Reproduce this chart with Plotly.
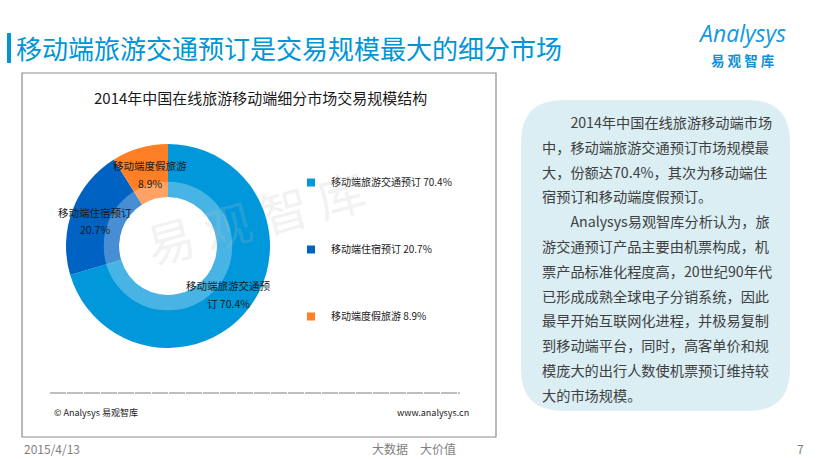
import plotly.graph_objects as go

W, H = 820, 459

# ---- data ----
segments = ["移动端旅游交通预订", "移动端住宿预订", "移动端度假旅游"]
shares = [70.4, 20.7, 8.9]
colors = ["#0098DB", "#0063C4", "#FF7F27"]

page_title = "移动端旅游交通预订是交易规模最大的细分市场"
chart_title = "2014年中国在线旅游移动端细分市场交易规模结构"
note_lines = [
    "\u3000\u30002014年中国在线旅游移动端市场",
    "中，移动端旅游交通预订市场规模最",
    "大，份额达70.4%，其次为移动端住",
    "宿预订和移动端度假预订。",
    "\u3000\u3000Analysys易观智库分析认为，旅",
    "游交通预订产品主要由机票构成，机",
    "票产品标准化程度高，20世纪90年代",
    "已形成成熟全球电子分销系统，因此",
    "最早开始互联网化进程，并极易复制",
    "到移动端平台，同时，高客单价和规",
    "模庞大的出行人数使机票预订维持较",
    "大的市场规模。",
]
footer_date = "2015/4/13"
footer_mid = "大数据\u3000大价值"
page_no = "7"

FONT = "Noto Sans CJK SC"


def px(x):
    return x / W


def py(y):
    return 1 - y / H


# donut geometry (pixels)
cx, cy, R = 168, 246, 102
hole = 0.48

fig = go.Figure()
fig.add_trace(go.Pie(
    labels=segments, values=shares, sort=False, direction="clockwise", rotation=0,
    hole=hole, marker=dict(colors=colors, line=dict(width=0)),
    textinfo="none", hoverinfo="label+percent", showlegend=False,
    domain=dict(x=[px(cx - R), px(cx + R)], y=[py(cy + R), py(cy - R)]),
))

# legend via dummy traces
for name, val, col in zip(segments, shares, colors):
    fig.add_trace(go.Scatter(
        x=[None], y=[None], mode="markers", name=f"{name} {val}%",
        legendgroup=name,
        marker=dict(symbol="square", size=8, color=col),
    ))

annotations = []
shapes = []


def ann(x, y, text, size, color, xanchor="center", family=FONT, angle=0, pad=1):
    annotations.append(dict(
        x=px(x), y=py(y), xref="paper", yref="paper", text=text, showarrow=False,
        xanchor=xanchor, yanchor="middle", textangle=angle, borderpad=pad,
        font=dict(family=family, size=size, color=color)))


# slice labels (wrapped like the reference)
label_pos = [(228, 285), (95, 212), (150, 165)]
for name, val, (lx, ly) in zip(segments, shares, label_pos):
    if len(name) > 8:
        l1, l2 = name[:8], f"{name[8:]} {val}%"
    else:
        l1, l2 = name, f"{val}%"
    for k, t in enumerate([l1, l2]):
        ann(lx, ly + 18 * k, t, 10.5, "#1a1a1a")

# lighter inner ring on the donut
rr = (hole * R + 0.63 * R) / 2
shapes.append(dict(type="circle", xref="paper", yref="paper",
                   x0=px(cx - rr), x1=px(cx + rr), y0=py(cy + rr), y1=py(cy - rr),
                   line=dict(color="rgba(255,255,255,0.28)", width=0.15 * R),
                   layer="above"))

# watermark
ann(255, 216, "易 观 智 库", 48, "rgba(190,190,190,0.2)", angle=-15)

# chart frame
shapes.append(dict(type="rect", xref="paper", yref="paper",
                   x0=px(22), x1=px(496), y0=py(437), y1=py(73),
                   line=dict(color="#8c8c8c", width=1.2), layer="below"))
ann(260, 97, chart_title, 15, "#1a1a1a")
shapes.append(dict(type="line", xref="paper", yref="paper",
                   x0=px(50), x1=px(460), y0=py(393), y1=py(393),
                   line=dict(color="#7f7f7f", width=1, dash="16px,1px")))
ann(52, 412, "© Analysys 易观智库", 9, "#1a1a1a", xanchor="left")
ann(471, 412, "www.analysys.cn", 9, "#1a1a1a", xanchor="right")

# page header
shapes.append(dict(type="rect", xref="paper", yref="paper",
                   x0=px(7), x1=px(11), y0=py(63), y1=py(33),
                   line=dict(width=0), fillcolor="#0096D6"))
ann(14, 48, page_title, 26, "#0096D6", xanchor="left")
ann(742, 33, "<i>Analysys</i>", 23, "#1599DA", family="Open Sans", pad=0)
ann(742, 60, "<b>易 观 智 库</b>", 13.5, "#1590D2", pad=0)

# note box
x0b, x1b, y0b, y1b, rad = 521, 790, 100, 411, 42
path = (f"M {px(x0b+rad)},{py(y0b)} L {px(x1b-rad)},{py(y0b)} "
        f"Q {px(x1b)},{py(y0b)} {px(x1b)},{py(y0b+rad)} "
        f"L {px(x1b)},{py(y1b-rad)} Q {px(x1b)},{py(y1b)} {px(x1b-rad)},{py(y1b)} "
        f"L {px(x0b+rad)},{py(y1b)} Q {px(x0b)},{py(y1b)} {px(x0b)},{py(y1b-rad)} "
        f"L {px(x0b)},{py(y0b+rad)} Q {px(x0b)},{py(y0b)} {px(x0b+rad)},{py(y0b)} Z")
shapes.append(dict(type="path", xref="paper", yref="paper", path=path,
                   fillcolor="#DAEEF4", line=dict(width=0), layer="below"))
for i, t in enumerate(note_lines):
    ann(540, 122 + i * 24.8, t, 14.2, "#404040", xanchor="left")

# page footer
ann(22, 448, footer_date, 12, "#7f7f7f", xanchor="left")
ann(414, 448, footer_mid, 12, "#7f7f7f")
ann(800, 448, page_no, 12, "#7f7f7f")

fig.update_layout(
    width=W, height=H, margin=dict(l=0, r=0, t=0, b=0),
    paper_bgcolor="white", plot_bgcolor="white",
    xaxis=dict(visible=False), yaxis=dict(visible=False),
    showlegend=True,
    legend=dict(x=px(306), y=py(168), xanchor="left", yanchor="top",
                font=dict(family=FONT, size=10, color="#1a1a1a"),
                tracegroupgap=48, bgcolor="rgba(0,0,0,0)", itemclick=False,
                indentation=-15),
    annotations=annotations, shapes=shapes,
    font=dict(family=FONT),
)

fig.write_html("out.html", config={"displayModeBar": False},
               post_script="document.body.style.margin='0';")
